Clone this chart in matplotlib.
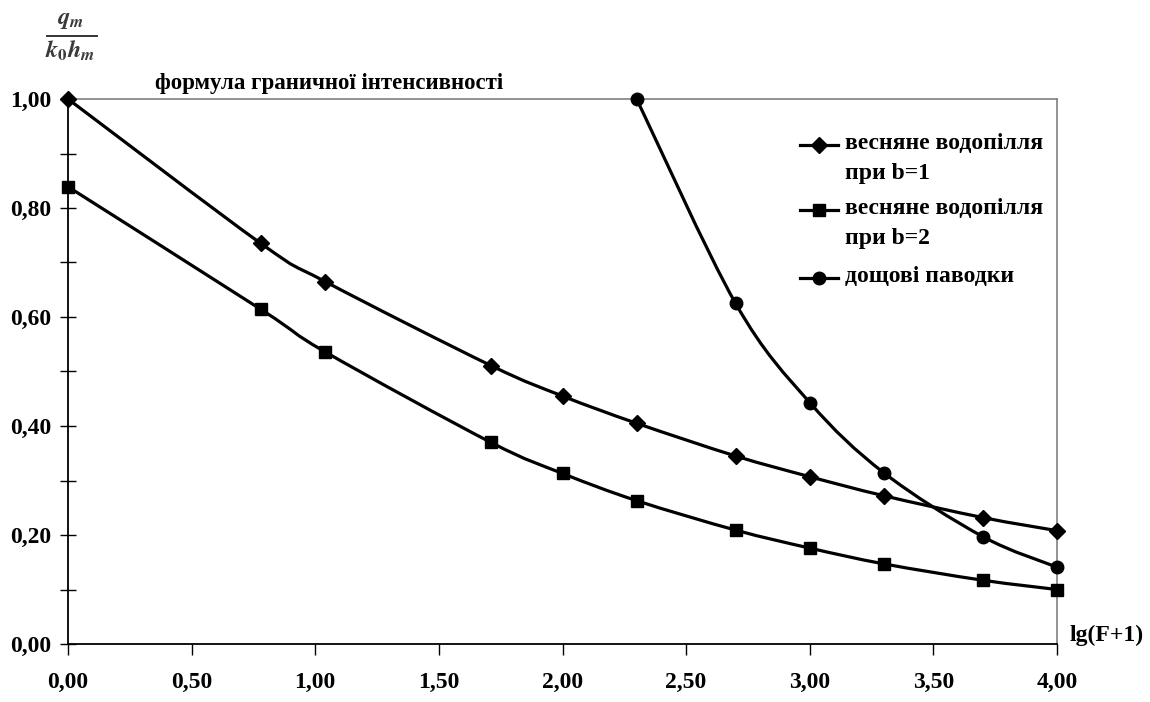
import numpy as np
import matplotlib
matplotlib.use("Agg")
from matplotlib import pyplot as plt
from matplotlib.path import Path
from matplotlib.patches import PathPatch
from matplotlib.lines import Line2D
from matplotlib.ticker import FuncFormatter, MultipleLocator

plt.rcParams['font.family'] = ['Liberation Serif', 'DejaVu Serif']
plt.rcParams['font.weight'] = 'bold'
plt.rcParams['mathtext.fontset'] = 'stix'

# lg(F+1) values
x_spring = [0.00, 0.78, 1.04, 1.71, 2.00, 2.30, 2.70, 3.00, 3.30, 3.70, 4.00]
y_b1 = [1.00, 0.735, 0.665, 0.511, 0.455, 0.405, 0.345, 0.307, 0.272, 0.232, 0.208]
y_b2 = [0.839, 0.614, 0.536, 0.370, 0.313, 0.263, 0.209, 0.176, 0.147, 0.117, 0.100]
x_rain = [2.30, 2.70, 3.00, 3.30, 3.70, 4.00]
y_rain = [1.00, 0.625, 0.443, 0.314, 0.197, 0.141]

labels = ["весняне водопілля\nпри b=1", "весняне водопілля\nпри b=2", "дощові паводки"]
markers = ["D", "s", "o"]
msizes = [8, 9, 9]


def smooth_path(xs, ys):
    # Excel-like smoothed line: cubic bezier through the points
    p = np.column_stack([xs, ys])
    n = len(p)
    verts = [p[0]]
    codes = [Path.MOVETO]
    for i in range(n - 1):
        p0 = p[i - 1] if i > 0 else p[i]
        p1 = p[i]
        p2 = p[i + 1]
        p3 = p[i + 2] if i + 2 < n else p[i + 1]
        c1 = p1 + (p2 - p0) / 6.0
        c2 = p2 - (p3 - p1) / 6.0
        verts += [c1, c2, p2]
        codes += [Path.CURVE4] * 3
    return Path(verts, codes)


W, H = 1150, 702
fig = plt.figure(figsize=(W / 100, H / 100), dpi=100)
ax = fig.add_axes([68 / W, 1 - 644 / H, (1057 - 68) / W, (644 - 99) / H])

series = [(x_spring, y_b1), (x_spring, y_b2), (x_rain, y_rain)]
for (xs, ys), m, ms in zip(series, markers, msizes):
    ax.add_patch(PathPatch(smooth_path(xs, ys), fill=False, lw=2.3, color='black',
                           clip_on=False, zorder=3))
    ax.plot(xs, ys, ls='none', marker=m, ms=ms, color='black', clip_on=False, zorder=4)

ax.set_xlim(0, 4)
ax.set_ylim(0, 1)

fmt = FuncFormatter(lambda v, pos: f"{v:.2f}".replace('.', ','))
ax.xaxis.set_major_locator(MultipleLocator(0.5))
ax.yaxis.set_major_locator(MultipleLocator(0.2))
ax.yaxis.set_minor_locator(MultipleLocator(0.1))
ax.xaxis.set_major_formatter(fmt)
ax.yaxis.set_major_formatter(fmt)
ax.tick_params(axis='x', direction='out', length=8, width=1, pad=12, labelsize=17)
ax.tick_params(axis='y', which='both', direction='inout', length=12, width=1, pad=6, labelsize=17)

for s in ['top', 'right']:
    ax.spines[s].set_color('#808080')
    ax.spines[s].set_linewidth(1.2)
for s in ['left', 'bottom']:
    ax.spines[s].set_color('black')
    ax.spines[s].set_linewidth(1.3)

# legend drawn by hand so the handle sits on the first text line (as in Excel)
leg_rows = [145, 210, 278]
for yy, m, ms, lab in zip(leg_rows, markers, msizes, labels):
    fy = 1 - yy / H
    fig.add_artist(Line2D([800 / W, 838 / W], [fy, fy], color='black', lw=2.3))
    fig.add_artist(Line2D([819 / W], [fy], color='black', marker=m, ms=ms))
    fig.text(845 / W, 1 - (yy - 12) / H, lab, fontsize=17, va='top', ha='left',
             linespacing=1.55)

fig.text(155 / W, 1 - 83 / H, "формула граничної інтенсивності", fontsize=16.5,
         fontweight='bold', va='center', ha='left')
fig.text(71 / W, 1 - 37 / H, r"$\frac{q_m}{k_0 h_m}$", fontsize=25, color='#3a3a3a',
         ha='center', va='center')
ax.annotate("lg(F+1)", xy=(1.0, 0.0), xycoords='axes fraction', xytext=(9, 6),
            textcoords='offset points', fontsize=17, ha='left', va='center')

fig.savefig("out.png", dpi=100)
